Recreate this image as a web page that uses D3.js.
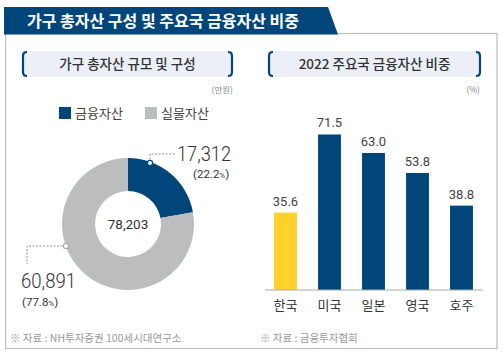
<!DOCTYPE html>
<html><head><meta charset="utf-8">
<script src="https://cdn.jsdelivr.net/npm/d3@7"></script>
<style>body{margin:0;background:#fff}svg{display:block;font-family:"Noto Sans CJK KR","Noto Sans",sans-serif}</style>
</head><body><svg id="c" width="504" height="356"></svg>
<script>
const title = "가구 총자산 구성 및 주요국 금융자산 비중";
const leftTitle = "가구 총자산 규모 및 구성";
const rightTitle = "2022 주요국 금융자산 비중";
const assetLabels = ["금융자산", "실물자산"];
const assetValues = [17312, 60891];
const assetShares = [22.2, 77.8];
const assetTotal = 78203;
const countries = ["한국", "미국", "일본", "영국", "호주"];
const shares = [35.6, 71.5, 63.0, 53.8, 38.8];
const leftSource = "※ 자료 : NH투자증권 100세시대연구소";
const rightSource = "※ 자료 : 금융투자협회";

const NAVY = "#00467a", GRAY = "#bcbdbf", YELLOW = "#ffd22b";
const svg = d3.select("#c");

// outer box
svg.append("rect").attr("x",5.5).attr("y",33.5).attr("width",491.5).attr("height",315).attr("fill","none").attr("stroke","#bdbdbd").attr("stroke-width",1.2);
// banner
svg.append("path").attr("d","M4,7 L328,7 L338,34.5 L4,34.5 Z").attr("fill",NAVY);
svg.append("text").attr("x",27).attr("y",26.5).attr("fill","#fff").attr("font-size",16).attr("font-weight",700).text(title);

function heading(x0,x1,txt){
  const g = svg.append("g");
  g.append("rect").attr("x",x0).attr("y",51).attr("width",x1-x0).attr("height",26).attr("fill","#eceff6");
  g.append("path").attr("d",`M${x0+5},52 Q${x0+1},52 ${x0+1},56 L${x0+1},72 Q${x0+1},76 ${x0+5},76`).attr("fill","none").attr("stroke",NAVY).attr("stroke-width",2.2);
  g.append("path").attr("d",`M${x1-5},52 Q${x1-1},52 ${x1-1},56 L${x1-1},72 Q${x1-1},76 ${x1-5},76`).attr("fill","none").attr("stroke",NAVY).attr("stroke-width",2.2);
  g.append("text").attr("x",(x0+x1)/2).attr("y",69).attr("text-anchor","middle").attr("font-size",13.5).attr("font-weight",500).attr("fill","#333").text(txt);
}
heading(22,233,leftTitle);
heading(268,481,rightTitle);

svg.append("text").attr("x",233).attr("y",93).attr("text-anchor","end").attr("font-size",8.5).attr("fill","#888").text("(만원)");
svg.append("text").attr("x",480).attr("y",93).attr("text-anchor","end").attr("font-size",8.5).attr("fill","#888").text("(%)");

// legend
const legX = [59,145], legC = [NAVY, GRAY];
assetLabels.forEach((l,i)=>{
  svg.append("rect").attr("x",legX[i]).attr("y",107).attr("width",12).attr("height",12).attr("fill",legC[i]);
  svg.append("text").attr("x",legX[i]+16).attr("y",118).attr("font-size",13).attr("fill","#444").text(l);
});

// donut
const cx=128, cy=224, R=66, r=33;
const pie = d3.pie().sort(null).value(d=>d)(assetValues);
const arc = d3.arc().innerRadius(r).outerRadius(R);
const dg = svg.append("g").attr("transform",`translate(${cx},${cy})`);
dg.selectAll("path").data(pie).join("path").attr("d",arc).attr("fill",(d,i)=>legC[i]);
const numFont = "Roboto, 'Noto Sans', sans-serif";
dg.append("text").attr("y",5).attr("text-anchor","middle").attr("font-size",13.5).attr("fill","#333").attr("font-family",numFont).text(d3.format(",")(assetTotal));

// leader lines and labels
const fmt = d3.format(",");
const p0 = [cx+22, cy-61];
const p1 = [cx-62, cy+22];
svg.append("path").attr("d",`M${p0[0]},${p0[1]} L${p0[0]},154 L175,154`).attr("fill","none").attr("stroke","#888").attr("stroke-dasharray","2,1.5").attr("stroke-width",0.9);
svg.append("circle").attr("cx",p0[0]).attr("cy",p0[1]).attr("r",2.6).attr("fill","#fff").attr("stroke",NAVY).attr("stroke-width",1.2);
svg.append("path").attr("d",`M${p1[0]},${p1[1]} L27,${p1[1]} L27,264`).attr("fill","none").attr("stroke","#888").attr("stroke-dasharray","2,1.5").attr("stroke-width",0.9);
svg.append("circle").attr("cx",p1[0]).attr("cy",p1[1]).attr("r",2.6).attr("fill","#fff").attr("stroke","#aaa").attr("stroke-width",1.2);

svg.append("text").attr("x",177).attr("y",161).attr("font-size",20).attr("font-weight",300).attr("fill","#333").attr("font-family",numFont)
  .attr("textLength",54).attr("lengthAdjust","spacingAndGlyphs").text(fmt(assetValues[0]));
const t0 = svg.append("text").attr("x",193).attr("y",178).attr("font-size",11.5).attr("fill","#333").attr("font-family",numFont);
t0.append("tspan").text("("+assetShares[0].toFixed(1));
t0.append("tspan").attr("font-size",8).text("%");
t0.append("tspan").text(")");
svg.append("text").attr("x",21).attr("y",288).attr("font-size",20).attr("font-weight",300).attr("fill","#333").attr("font-family",numFont)
  .attr("textLength",55).attr("lengthAdjust","spacingAndGlyphs").text(fmt(assetValues[1]));
const t1 = svg.append("text").attr("x",22).attr("y",306).attr("font-size",11.5).attr("fill","#333").attr("font-family",numFont);
t1.append("tspan").text("("+assetShares[1].toFixed(1));
t1.append("tspan").attr("font-size",8).text("%");
t1.append("tspan").text(")");

svg.append("text").attr("x",10).attr("y",342).attr("font-size",10.5).attr("fill","#999").text(leftSource);

// bar chart
const x = d3.scaleBand().domain(countries).range([263.5,483.5]).paddingInner(0.48).paddingOuter(0.24);
const y = d3.scaleLinear().domain([0,80]).range([290,290-80*2.175]);
svg.selectAll("rect.bar").data(shares).join("rect").attr("class","bar")
  .attr("x",(d,i)=>x(countries[i])).attr("width",x.bandwidth())
  .attr("y",d=>y(d)).attr("height",d=>290-y(d))
  .attr("fill",(d,i)=>i===0?YELLOW:NAVY);
svg.selectAll("text.val").data(shares).join("text").attr("class","val")
  .attr("x",(d,i)=>x(countries[i])+x.bandwidth()/2).attr("y",d=>y(d)-7)
  .attr("text-anchor","middle").attr("font-size",13).attr("fill","#444").attr("font-family",numFont)
  .text(d=>d.toFixed(1));
const axis = d3.axisBottom(x).tickSize(0).tickPadding(11);
const ag = svg.append("g").attr("transform","translate(0,290)").call(axis);
ag.select(".domain").attr("stroke","#aaa").attr("d","M265,0H483");
ag.selectAll("text").attr("font-size",13).attr("fill","#333").attr("font-family","'Noto Sans CJK KR', sans-serif");

svg.append("text").attr("x",260).attr("y",342).attr("font-size",10.5).attr("fill","#999").text(rightSource);
</script></body></html>
